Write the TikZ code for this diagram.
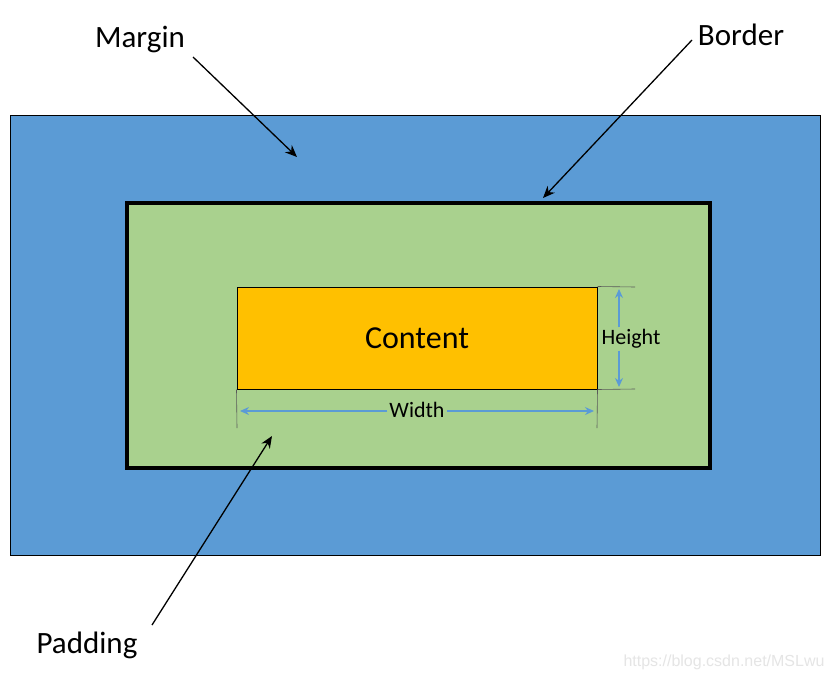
\documentclass[tikz,border=0pt]{standalone}
\usepackage{fontspec}
\setmainfont{Carlito}
\newfontfamily\wmfont{Liberation Sans}
\usetikzlibrary{arrows.meta}
\definecolor{mblue}{HTML}{5B9BD5}
\definecolor{mgreen}{HTML}{A9D18E}
\definecolor{morange}{HTML}{FFC000}
\definecolor{dimblue}{HTML}{5B9BD5}
\tikzset{
  lbl/.style={font=\fontsize{31}{36}\selectfont, inner sep=0pt},
  pointer/.style={draw=black, line width=1.3pt, -{Stealth[length=12pt,width=10pt]}},
  dimarrow/.style={draw=dimblue, line width=1.3pt, -{Stealth[length=9pt,width=8pt]}},
  extline/.style={draw=gray!70!black, line width=0.6pt},
  dimlbl/.style={font=\fontsize{22}{26}\selectfont, fill=mgreen, inner sep=2pt}
}
\begin{document}
\begin{tikzpicture}[x=1pt,y=-1pt]
\useasboundingbox (0,0) rectangle (834,679);
\fill[white] (0,0) rectangle (834,679);
% boxes
\draw[fill=mblue, draw=black, line width=0.8pt] (10,115) rectangle (820,555);
\draw[fill=mgreen, draw=black, line width=3.2pt] (127,203) rectangle (710,468);
\node[draw=black, fill=morange, line width=1pt, minimum width=360pt, minimum height=102pt, inner sep=0pt,
  font=\fontsize{32}{38}\selectfont] (content) at (417,338) {Content};
% height dimension
\coordinate (h1) at (635,287);
\coordinate (h2) at (635,389);
\draw[extline] (content.north east) -- (h1);
\draw[extline] (content.south east) -- (h2);
\node[dimlbl] (height) at (631,339) {Height};
\coordinate (ht) at (619,289);
\coordinate (hb) at (619,387);
\draw[dimarrow] (height.north -| ht) -- (ht);
\draw[dimarrow] (height.south -| hb) -- (hb);
% width dimension
\coordinate (w1) at (237,428);
\coordinate (w2) at (597,428);
\draw[extline] (content.south west) -- (w1);
\draw[extline] (content.south east) -- (w2);
\node[dimlbl] (width) at (417,410) {Width};
\coordinate (wl) at (240,411);
\coordinate (wr) at (594,411);
\draw[dimarrow] (width.west |- wl) -- (wl);
\draw[dimarrow] (width.east |- wr) -- (wr);
% labels and pointers
\node[lbl] (margin) at (140,40) {Margin};
\coordinate (mt) at (297,157);
\draw[pointer] (193,57) -- (mt);
\node[lbl] (border) at (741,35) {Border};
\coordinate (bt) at (543,198);
\draw[pointer] (692,40) -- (bt);
\node[lbl] (padding) at (87,645) {Padding};
\coordinate (pt) at (272,436);
\draw[pointer] (152,625) -- (pt);
% watermark
\node[font=\fontsize{16}{18}\selectfont\wmfont, text=black!10, inner sep=0pt] (wm) at (724,662) {https://blog.csdn.net/MSLwu};
\end{tikzpicture}
\end{document}
